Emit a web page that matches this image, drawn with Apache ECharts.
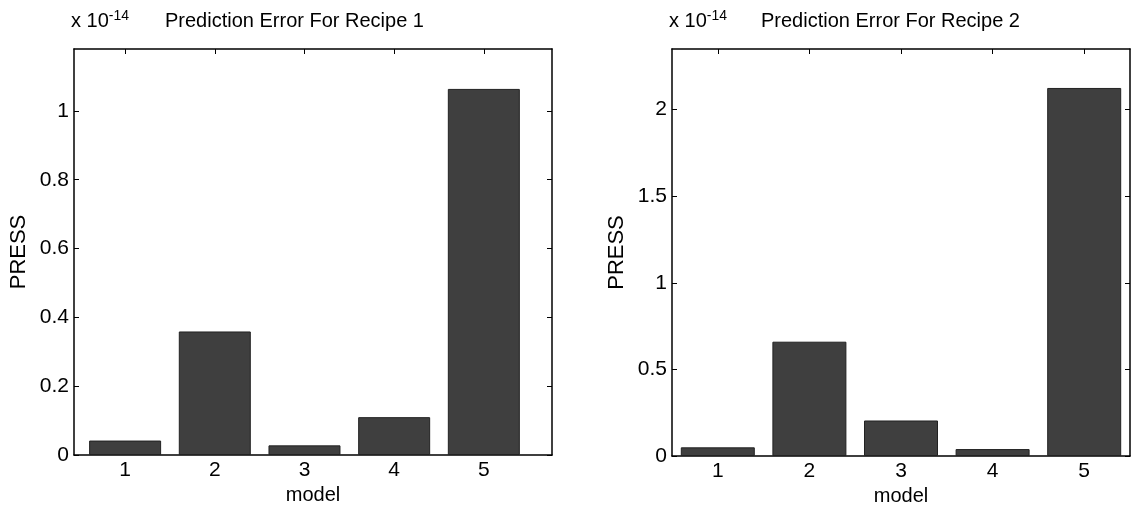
<!DOCTYPE html>
<html>
<head>
<meta charset="utf-8">
<script src="https://cdn.jsdelivr.net/npm/echarts@6/dist/echarts.min.js"></script>
<style>
  html, body { margin: 0; padding: 0; background: #fff; }
  #chart { width: 1138px; height: 512px; }
</style>
</head>
<body>
<div id="chart"></div>
<script>
// model numbers on the x axis
const models = [1, 2, 3, 4, 5]
// PRESS values (x 1e-14)
const recipe1 = [0.042, 0.359, 0.028, 0.11, 1.064]
const recipe2 = [0.05, 0.66, 0.205, 0.04, 2.125]
const ticks1 = [0, 0.2, 0.4, 0.6, 0.8, 1]
const ticks2 = [0, 0.5, 1, 1.5, 2]

const FONT = '"Liberation Sans", Arial, sans-serif'
const barColor = '#3f3f3f'

const chart = echarts.init(document.getElementById('chart'))

function fmt(v) {
  return String(Math.round(v * 100) / 100)
}

function xAxes(gridIndex, min, max) {
  return [
    {
      type: 'value', gridIndex, min, max, position: 'bottom',
      axisLine: { show: true, onZero: false, lineStyle: { color: '#000', width: 1.5 } },
      axisTick: { show: true, inside: true, length: 5, customValues: models, lineStyle: { color: '#000' } },
      axisLabel: { customValues: models, color: '#000', fontSize: 21, fontFamily: FONT, margin: 5 },
      splitLine: { show: false },
      name: 'model', nameLocation: 'middle', nameGap: 30,
      nameTextStyle: { color: '#000', fontSize: 20, fontFamily: FONT }
    },
    {
      type: 'value', gridIndex, min, max, position: 'top',
      axisLine: { show: true, onZero: false, lineStyle: { color: '#000', width: 1.5 } },
      axisTick: { show: true, inside: true, length: 5, customValues: models, lineStyle: { color: '#000' } },
      axisLabel: { show: false },
      splitLine: { show: false }
    }
  ]
}

function yAxes(gridIndex, max, ticks) {
  return [
    {
      type: 'value', gridIndex, min: 0, max, position: 'left',
      axisLine: { show: true, lineStyle: { color: '#000', width: 1.5 } },
      axisTick: { show: true, inside: true, length: 5, customValues: ticks, lineStyle: { color: '#000' } },
      axisLabel: { customValues: ticks, formatter: fmt, color: '#000', fontSize: 21, fontFamily: FONT, margin: 5 },
      splitLine: { show: false },
      name: 'PRESS', nameLocation: 'middle', nameRotate: 90, nameGap: 44,
      nameTextStyle: { color: '#000', fontSize: 22, fontFamily: FONT }
    },
    {
      type: 'value', gridIndex, min: 0, max, position: 'right',
      axisLine: { show: true, lineStyle: { color: '#000', width: 1.5 } },
      axisTick: { show: true, inside: true, length: 5, customValues: ticks, lineStyle: { color: '#000' } },
      axisLabel: { show: false },
      splitLine: { show: false }
    }
  ]
}

function barSeries(values, xAxisIndex, yAxisIndex, width) {
  return {
    type: 'bar',
    xAxisIndex, yAxisIndex,
    barWidth: width,
    data: values.map((v, i) => [models[i], v]),
    itemStyle: { color: barColor, borderColor: '#222', borderWidth: 1 },
    silent: true
  }
}

const titleStyle = { color: '#000', fontSize: 20, fontWeight: 'normal', fontFamily: FONT }
const expStyle = {
  color: '#000', fontSize: 20, fontWeight: 'normal', fontFamily: FONT,
  rich: { s: { fontSize: 14, verticalAlign: 'top', padding: [0, 0, 10, 0], fontFamily: FONT, color: '#000' } }
}

const option = {
  animation: false,
  backgroundColor: '#fff',
  title: [
    { text: 'x 10{s|-14}', left: 66, top: 4, textStyle: expStyle },
    { text: 'Prediction Error For Recipe 1', left: 160, top: 6, textStyle: titleStyle },
    { text: 'x 10{s|-14}', left: 664, top: 4, textStyle: expStyle },
    { text: 'Prediction Error For Recipe 2', left: 756, top: 6, textStyle: titleStyle }
  ],
  grid: [
    { left: 74, top: 49, width: 478, height: 406 },
    { left: 672, top: 49, width: 458, height: 407 }
  ],
  xAxis: [...xAxes(0, 0.43, 5.76), ...xAxes(1, 0.5, 5.5)],
  yAxis: [...yAxes(0, 1.18, ticks1), ...yAxes(1, 2.35, ticks2)],
  series: [
    barSeries(recipe1, 0, 0, 72),
    barSeries(recipe2, 2, 2, 74)
  ]
}

chart.setOption(option)
</script>
</body>
</html>
